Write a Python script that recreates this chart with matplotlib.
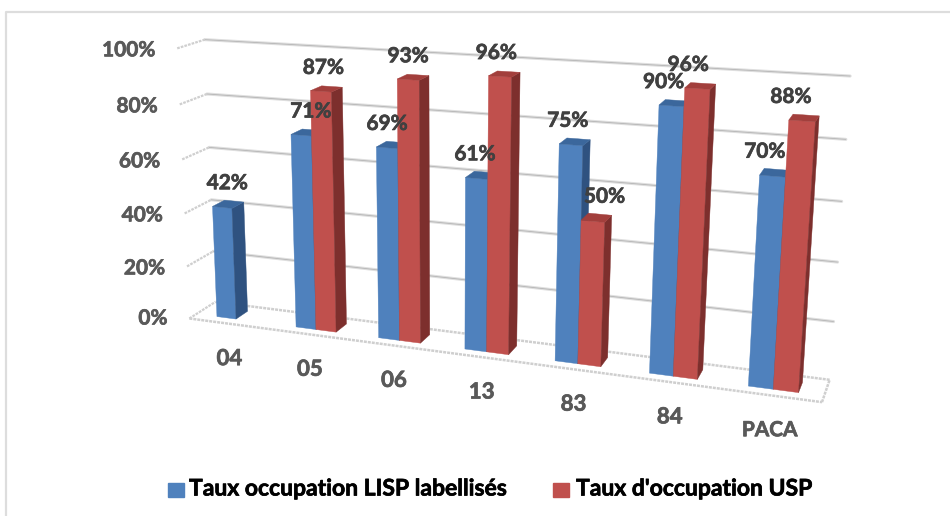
import numpy as np
import matplotlib
matplotlib.use('Agg')
import matplotlib.pyplot as plt
import matplotlib.patheffects as pe

# Donnees
categories = ['04', '05', '06', '13', '83', '84', 'PACA']
lisp = [42, 71, 69, 61, 75, 90, 70]
usp = [None, 87, 93, 96, 50, 96, 88]
ticks = [0, 20, 40, 60, 80, 100]
label_lisp = 'Taux occupation LISP labellisés'
label_usp = "Taux d'occupation USP"

# decalage horizontal des etiquettes par rapport au haut de la barre
dx_lisp = [-1, 4, -5, -6, -7, -11, -10]
dx_usp = [0, -3, -5, -8, 8, -12, -13]

plt.rcParams['font.family'] = ['Lato', 'DejaVu Sans']
plt.rcParams['font.weight'] = 'bold'
gras = [pe.withStroke(linewidth=0.5, foreground='#404040')]
gras_noir = [pe.withStroke(linewidth=0.5, foreground='black')]

# coins de la boite 3D (x, profondeur, hauteur) -> pixels de l'image
box = [(0, 0, 0), (1, 0, 0), (1, 1, 0), (0, 1, 0), (0, 1, 1), (1, 1, 1), (0, 0, 1)]
pix = [(191.7, 318.3), (821.7, 402.7), (830, 379.3), (213, 302), (207, 40), (850, 76), (175, 48)]

# Ajustement de la matrice de projection
rows = []
for (x, d, z), (u, v) in zip(box, pix):
    rows.append([x, d, z, 1, 0, 0, 0, 0, -u * x, -u * d, -u * z, -u])
    rows.append([0, 0, 0, 0, x, d, z, 1, -v * x, -v * d, -v * z, -v])
P = np.linalg.svd(np.array(rows))[2][-1].reshape(3, 4)


def proj(x, d, z):
    w = P @ np.array([x, d, z, 1.0])
    return w[0] / w[2], w[1] / w[2]


fig = plt.figure(figsize=(9.5, 5.16), dpi=100)
ax = fig.add_axes([0, 0, 1, 1])
ax.set_xlim(0, 950)
ax.set_ylim(516, 0)
ax.axis('off')

# Cadre
ax.plot([6, 6, 950], [516, 12, 12], color='#DDDDDD', lw=1.6)


def line3d(a, b, **kw):
    pa, pb = proj(*a), proj(*b)
    ax.plot([pa[0], pb[0]], [pa[1], pb[1]], solid_capstyle='round', zorder=1, **kw)


# Grille
for t in ticks:
    z = t / 100
    if t > 0:
        line3d((0, 1, z), (1, 1, z), color='#DEDEDE', lw=2.2)
        line3d((0, 1, z), (1, 1, z), color='#B5B5B5', lw=0.6)
    line3d((0, 0, z), (0, 1, z), color='#CFCFCF', lw=1.6, linestyle=(0, (1.2, 0.5)))
    pt = proj(0, 0, z)
    ax.text(pt[0] - 22, pt[1] + (2 if t else 0), f'{t}%', ha='right', va='center',
            color='#595959', fontsize=15, path_effects=[pe.withStroke(linewidth=0.5, foreground='#595959')])

for a, b in [((0, 0, 0), (1, 0, 0)), ((1, 0, 0), (1, 1, 0)), ((1, 1, 0), (0, 1, 0))]:
    line3d(a, b, color='#CFCFCF', lw=1.8, linestyle=(0, (1.2, 0.4)))

# Barres
start = 0.265
bw = 0.245
d0, d1 = 0.27, 0.73
n = len(categories)


def bar(i, k, val, front, side, top):
    x0 = (i + start + k * bw) / n
    x1 = (i + start + (k + 1) * bw) / n
    z = val / 100
    ax.fill(*zip(proj(x0, d0, 0), proj(x1, d0, 0), proj(x1, d0, z), proj(x0, d0, z)), color=front, lw=0.3, zorder=3)
    ax.fill(*zip(proj(x1, d0, 0), proj(x1, d1, 0), proj(x1, d1, z), proj(x1, d0, z)), color=side, lw=0.3, zorder=3)
    ax.fill(*zip(proj(x0, d0, z), proj(x1, d0, z), proj(x1, d1, z), proj(x0, d1, z)), color=top, lw=0.3, zorder=3)
    return proj((x0 + x1) / 2, (d0 + d1) / 2, z)


for i in range(n):
    c = bar(i, 0, lisp[i], '#4F81BD', '#2F5280', '#3B679C')
    ax.text(c[0] + dx_lisp[i], c[1] - 21, f'{lisp[i]}%', ha='center', va='center',
            color='#404040', fontsize=15, zorder=10, path_effects=gras)
    if usp[i] is not None:
        c = bar(i, 1, usp[i], '#C0504D', '#7D2F2D', '#A23F3C')
        ax.text(c[0] + dx_usp[i], c[1] - 21, f'{usp[i]}%', ha='center', va='center',
                color='#404040', fontsize=15, zorder=10, path_effects=gras)
    p = proj((i + 0.5) / n, 0, 0)
    ax.text(p[0] + (1 if i < 6 else 0), p[1] + 35, categories[i], ha='center', va='center',
            color='#595959', fontsize=16 if i < 6 else 15,
            path_effects=[pe.withStroke(linewidth=0.5, foreground='#595959')])

# Legende
ax.add_patch(plt.Rectangle((168, 483), 16, 14, color='#4F81BD'))
ax.add_patch(plt.Rectangle((553, 483), 16, 14, color='#C0504D'))
ax.text(189, 489, label_lisp, ha='left', va='center', fontsize=16.5, color='black', path_effects=gras_noir)
ax.text(576, 489, label_usp, ha='left', va='center', fontsize=16.5, color='black', path_effects=gras_noir)

fig.savefig('out.png', dpi=100)
